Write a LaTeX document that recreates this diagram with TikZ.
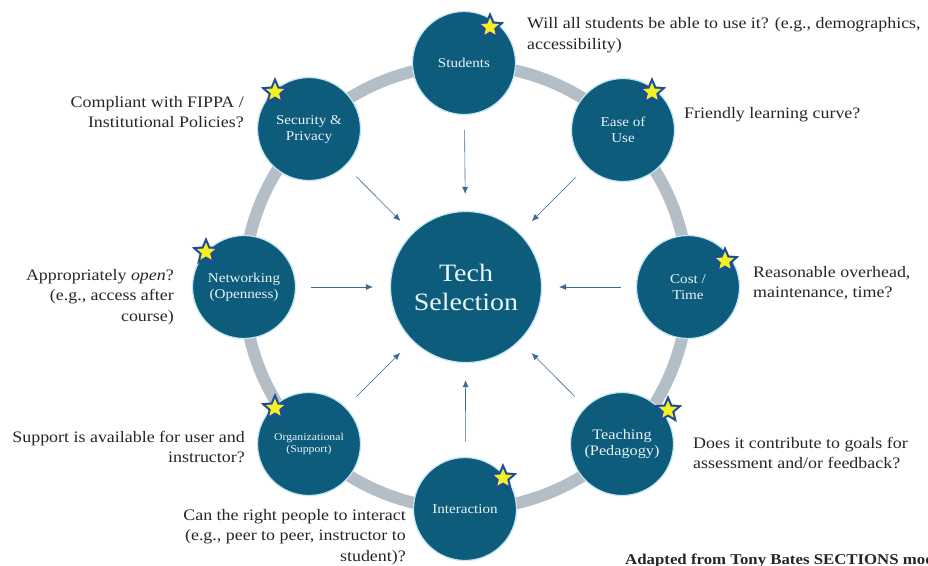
\documentclass[tikz,border=0pt]{standalone}
\usepackage{fontspec}
\setmainfont{Liberation Serif}[FakeStretch=1.12]
\usepackage{tikz}
\usetikzlibrary{arrows.meta, positioning, shapes.geometric}
\definecolor{steal}{HTML}{0E5C7B}
\definecolor{sglow}{HTML}{BFE6F2}
\definecolor{sring}{HTML}{B4BEC6}
\definecolor{sarrow}{HTML}{3A6B98}
\definecolor{sstarblue}{HTML}{1C4C9A}
\definecolor{sstaryellow}{HTML}{F6EF24}
\definecolor{stext}{HTML}{E8F4F8}
\tikzset{
  satnode/.style={circle, fill=steal, draw=sglow, line width=1.2pt, minimum size=103pt,
                  inner sep=0pt, align=center, text=stext, font=\fontsize{13.5}{16}\selectfont},
  hubnode/.style={circle, fill=steal, draw=sglow, line width=1.2pt, minimum size=151pt,
                  inner sep=0pt, align=center, text=stext, font=\fontsize{25}{29}\selectfont},
  qtext/.style={font=\fontsize{16}{20.5}\selectfont, text=black!85, inner sep=0pt},
  arr/.style={-{Latex[length=7pt,width=6pt]}, semithick, sarrow,
              shorten <=15pt, shorten >=17pt},
  ring/.style={draw=sring, line width=12pt},
  starback/.style={star, star points=5, star point ratio=2.2, fill=sstarblue,
                   minimum size=30pt, inner sep=0pt},
  starfront/.style={star, star points=5, star point ratio=2.2, fill=sstaryellow,
                    minimum size=19pt, inner sep=0pt},
}
\begin{document}
\begin{tikzpicture}[x=1pt, y=-1pt]
  \useasboundingbox (0,0) rectangle (928,565);
  \clip (0,0) rectangle (928,565);
  \fill[white] (0,0) rectangle (928,565);

  %% Gray ring behind the satellites
  \draw[ring] (466,287) circle[radius=222pt];

  %% Hub
  \node[hubnode] (tech) at (466,287) {Tech\\Selection};

  %% Satellites
  \node[satnode] (stu)   at (464,63)  {Students};
  \node[satnode] (ease)  at (623,130) {Ease of\\Use};
  \node[satnode] (cost)  at (688,287) {Cost /\\Time};
  \node[satnode, font=\fontsize{14.5}{16.5}\selectfont] (teach) at (622,444) {Teaching\\(Pedagogy)};
  \node[satnode] (inter) at (465,509) {Interaction};
  \node[satnode, font=\fontsize{10.5}{12}\selectfont] (org) at (309,444) {Organizational\\(Support)};
  \node[satnode] (net)   at (244,287) {Networking\\(Openness)};
  \node[satnode] (sec)   at (309,129) {Security \&\\Privacy};

  %% Stars
  \foreach \sx/\sy/\sname in {490/27/stu, 652/92/ease, 725/261/cost, 668/410/teach,
                              503/478/inter, 275/408/org, 206/252/net, 275/92/sec}{
    \node[starback]  (star-\sname) at (\sx,\sy) {};
    \node[starfront] at (star-\sname) {};
  }

  %% Arrows into the hub
  \foreach \s in {stu, ease, cost, teach, inter, org, net, sec}{
    \draw[arr] (\s) -- (tech);
  }

  %% Questions
  \node[qtext, anchor=west, align=left]  (q-stu)   at (527,35)  {Will all students be able to use it? (e.g., demographics,\\accessibility)};
  \node[qtext, anchor=west, align=left]  (q-ease)  at (684,115) {Friendly learning curve?};
  \node[qtext, anchor=west, align=left]  (q-cost)  at (753,283) {Reasonable overhead,\\maintenance, time?};
  \node[qtext, anchor=west, align=left]  (q-teach) at (693,453) {Does it contribute to goals for\\assessment and/or feedback?};
  \node[qtext, anchor=east, align=right] (q-inter) at (406,537) {Can the right people to interact\\(e.g., peer to peer, instructor to\\student)?};
  \node[qtext, anchor=east, align=right] (q-org)   at (245,447) {Support is available for user and\\instructor?};
  \node[qtext, anchor=east, align=right] (q-net)   at (174,297) {Appropriately \textit{open}?\\(e.g., access after\\course)};
  \node[qtext, anchor=east, align=right] (q-sec)   at (244,112) {Compliant with FIPPA /\\Institutional Policies?};

  %% Credit line, cut at the picture edge
  \node[qtext, anchor=west, font=\fontsize{15}{17}\selectfont\bfseries] (credit) at (625,561) {Adapted from Tony Bates SECTIONS model};
\end{tikzpicture}
\end{document}
